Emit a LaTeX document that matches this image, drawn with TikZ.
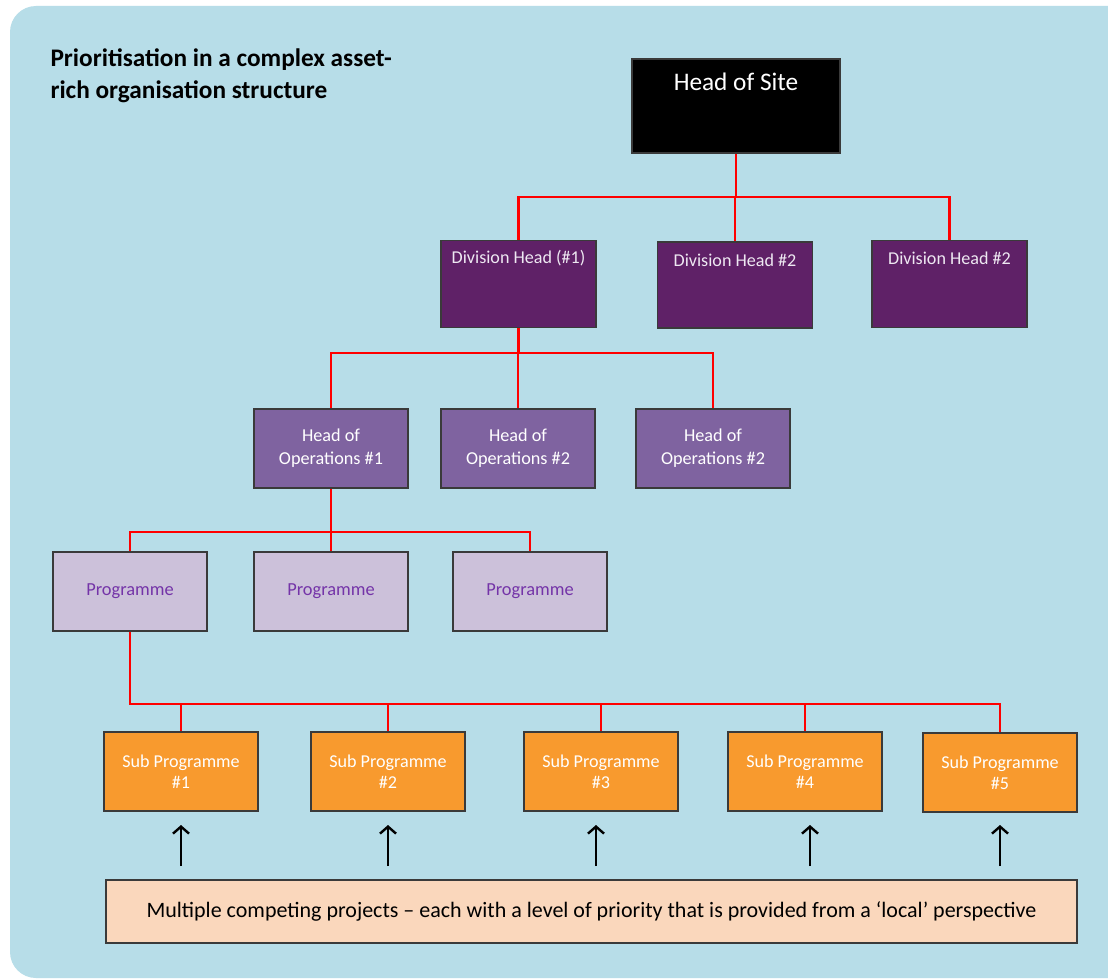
\documentclass[tikz,border=0pt]{standalone}
\usepackage{fontspec}
\setmainfont{Carlito}
\usetikzlibrary{arrows.meta}
\definecolor{bgblue}{HTML}{B7DDE8}
\definecolor{dhpurple}{HTML}{5F2167}
\definecolor{hoopurple}{HTML}{7F63A0}
\definecolor{proglilac}{HTML}{CCC1DA}
\definecolor{progtext}{HTML}{7434A8}
\definecolor{suborange}{HTML}{F89A2E}
\definecolor{peach}{HTML}{FAD7BC}
\definecolor{boxline}{HTML}{3A3A3A}
\definecolor{conred}{HTML}{FF0000}
\definecolor{dhtext}{HTML}{EEE8F2}
\tikzset{
  box/.style={draw=boxline, line width=1.1pt, rectangle, inner sep=0pt, align=center},
  hosbox/.style={box, fill=black, minimum width=208pt, minimum height=94pt},
  dhbox/.style={box, fill=dhpurple, minimum width=155pt, minimum height=87pt},
  dhlabel/.style={text=dhtext, font=\fontsize{18.1}{22}\selectfont},
  hoobox/.style={box, fill=hoopurple, text=white, minimum width=154pt, minimum height=79pt, font=\fontsize{18.2}{23}\selectfont},
  progbox/.style={box, fill=proglilac, text=progtext, minimum width=154pt, minimum height=79pt, font=\fontsize{18.4}{22}\selectfont},
  subbox/.style={box, fill=suborange, text=white, minimum width=154pt, minimum height=79pt, font=\fontsize{18.1}{21}\selectfont},
  conn/.style={draw=conred, line width=2.8pt},
  uparrow/.style={draw=black, line width=2.4pt, -{Straight Barb[length=7pt,width=16pt]}},
}
\begin{document}
\begin{tikzpicture}[x=1pt,y=-1pt]
\useasboundingbox (0,0) rectangle (1108,979);
\fill[white] (0,0) rectangle (1108,979);
\fill[bgblue, rounded corners=26pt] (10,6) rectangle (1140,978);

% title
\node[anchor=base west, align=left, font=\bfseries\fontsize{25.3}{32}\selectfont] (title) at (47,99)
  {Prioritisation in a complex asset-\\rich organisation structure};

% head of site
\node[hosbox] (hos) at (736,106) {};
\node[text=white, font=\fontsize{25.3}{30}\selectfont, anchor=center] (hostext) at (736,82) {Head of Site};

% division heads
\node[dhbox] (d1) at (518.5,284) {};
\node[dhbox, minimum height=86pt] (d2) at (735,285) {};
\node[dhbox] (d3) at (949.5,284) {};
\node[dhlabel] (d1t) at (518.5,258) {Division Head (\#1)};
\node[dhlabel] (d2t) at (735,260) {Division Head \#2};
\node[dhlabel] (d3t) at (949.5,258) {Division Head \#2};

% heads of operations
\node[hoobox] (o1) at (331,448.5) {Head of\\Operations \#1};
\node[hoobox] (o2) at (518,448.5) {Head of\\Operations \#2};
\node[hoobox] (o3) at (713,448.5) {Head of\\Operations \#2};

% programmes
\node[progbox] (p1) at (130,591.5) {Programme};
\node[progbox] (p2) at (331,591.5) {Programme};
\node[progbox] (p3) at (530,591.5) {Programme};

% sub programmes
\node[subbox] (s1) at (181,771.5) {Sub Programme\\\#1};
\node[subbox] (s2) at (388,771.5) {Sub Programme\\\#2};
\node[subbox] (s3) at (601,771.5) {Sub Programme\\\#3};
\node[subbox] (s4) at (805,771.5) {Sub Programme\\\#4};
\node[subbox] (s5) at (1000,772.5) {Sub Programme\\\#5};

% bottom box
\node[box, fill=peach, minimum width=971pt, minimum height=63pt, font=\fontsize{22}{26}\selectfont] (bottom) at (591.5,911.5)
  {Multiple competing projects -- each with a level of priority that is provided from a ‘local’ perspective};

% bus coordinates
\coordinate (b1) at (0,197);
\coordinate (b2) at (0,353);
\coordinate (b3) at (0,532);
\coordinate (b4) at (0,704);

% connectors
\draw[conn] (hos.south) -- (hos.south |- b1);
\draw[conn] (d1.north) |- (d3.north |- b1) -- (d3.north);
\draw[conn] (d2.north) -- (d2.north |- b1);

\draw[conn] (d1.south) -- (d1.south |- b2);
\draw[conn] (o1.north) |- (o3.north |- b2) -- (o3.north);
\draw[conn] (o2.north) -- (o2.north |- b2);

\draw[conn] (o1.south) -- (o1.south |- b3);
\draw[conn] (p1.north) |- (p3.north |- b3) -- (p3.north);
\draw[conn] (p2.north) -- (p2.north |- b3);

\draw[conn] (p1.south) |- (s5.north |- b4) -- (s5.north);
\draw[conn] (s1.north) -- (s1.north |- b4);
\draw[conn] (s2.north) -- (s2.north |- b4);
\draw[conn] (s3.north) -- (s3.north |- b4);
\draw[conn] (s4.north) -- (s4.north |- b4);

% arrows
\foreach \x [count=\i] in {181,388,596,810,1000} {
  \coordinate (af\i) at (\x,866);
  \coordinate (at\i) at (\x,825);
  \draw[uparrow] (af\i) -- (at\i);
}
\end{tikzpicture}
\end{document}
